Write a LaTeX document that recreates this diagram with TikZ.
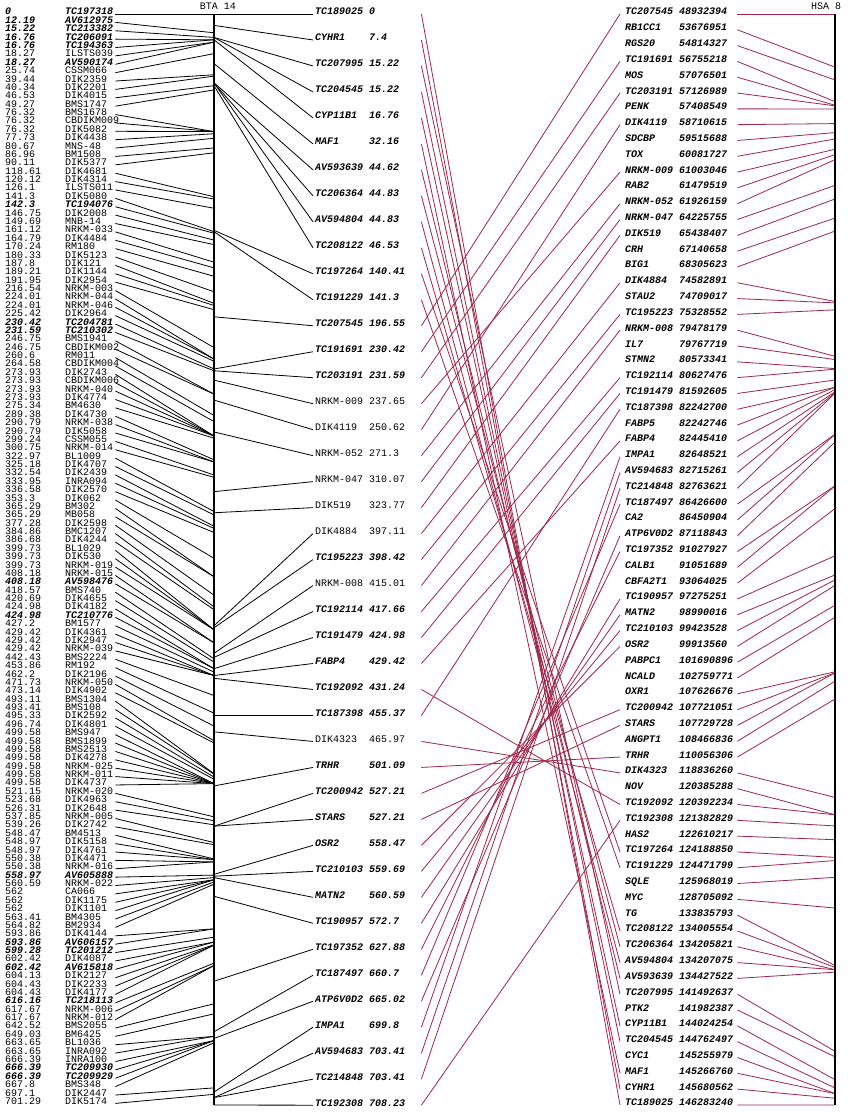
\documentclass[tikz,border=0pt]{standalone}
\usepackage{fontspec}
\setmonofont{Liberation Mono}
\definecolor{linkred}{RGB}{158,38,72}
\tikzset{
  mk/.style={font=\ttfamily\fontsize{10}{10}\selectfont},
  est/.style={font=\ttfamily\bfseries\itshape\fontsize{10}{10}\selectfont},
  lbl/.style={anchor=west,inner sep=0pt,text height=6pt,text depth=0pt,align=left},
  con/.style={line width=0.8pt},
  link/.style={linkred,line width=0.8pt},
  axis/.style={line width=2.8pt}
}
\begin{document}
\begin{tikzpicture}[x=1pt,y=-1pt]
\fill[white] (0,0) rectangle (848,1113);
\useasboundingbox (0,0) rectangle (848,1113);

\coordinate (btatop) at (214,14);
\coordinate (btabot) at (214,1105);
\coordinate (hsatop) at (835,14);
\coordinate (hsabot) at (835,1105);
\node[mk] (bta) at (218,6) {BTA 14};
\node[mk] (hsa) at (826,6) {HSA 8};

\foreach \cm/\nm/\st [count=\i] in {0/TC197318/est, 12.19/AV612975/est, 15.22/TC213382/est, 16.76/TC206091/est, 16.76/TC194363/est, 18.27/ILSTS039/mk, 18.27/AV590174/est, 25.74/CSSM066/mk, 39.44/DIK2359/mk, 40.34/DIK2201/mk, 46.53/DIK4015/mk, 49.27/BMS1747/mk, 76.32/BMS1678/mk, 76.32/CBDIKM009/mk, 76.32/DIK5082/mk, 77.73/DIK4438/mk, 80.67/MNS-48/mk, 86.96/BM1508/mk, 90.11/DIK5377/mk, 118.61/DIK4681/mk, 120.12/DIK4314/mk, 126.1/ILSTS011/mk, 141.3/DIK5080/mk, 142.3/TC194076/est, 146.75/DIK2008/mk, 149.69/MNB-14/mk, 161.12/NRKM-033/mk, 164.79/DIK4484/mk, 170.24/RM180/mk, 180.33/DIK5123/mk, 187.8/DIK121/mk, 189.21/DIK1144/mk, 191.95/DIK2954/mk, 216.54/NRKM-003/mk, 224.01/NRKM-044/mk, 224.01/NRKM-046/mk, 225.42/DIK2964/mk, 230.42/TC204781/est, 231.59/TC210302/est, 246.75/BMS1941/mk, 246.75/CBDIKM002/mk, 260.6/RM011/mk, 264.58/CBDIKM004/mk, 273.93/DIK2743/mk, 273.93/CBDIKM006/mk, 273.93/NRKM-040/mk, 273.93/DIK4774/mk, 275.34/BM4630/mk, 289.38/DIK4730/mk, 290.79/NRKM-038/mk, 290.79/DIK5058/mk, 299.24/CSSM055/mk, 300.75/NRKM-014/mk, 322.97/BL1009/mk, 325.18/DIK4707/mk, 332.54/DIK2439/mk, 333.95/INRA094/mk, 336.58/DIK2570/mk, 353.3/DIK062/mk, 365.29/BM302/mk, 365.29/MB058/mk, 377.28/DIK2598/mk, 384.86/BMC1207/mk, 386.68/DIK4244/mk, 399.73/BL1029/mk, 399.73/DIK530/mk, 399.73/NRKM-019/mk, 408.18/NRKM-015/mk, 408.18/AV598476/est, 418.57/BMS740/mk, 420.69/DIK4655/mk, 424.98/DIK4182/mk, 424.98/TC210776/est, 427.2/BM1577/mk, 429.42/DIK4361/mk, 429.42/DIK2947/mk, 429.42/NRKM-039/mk, 442.43/BMS2224/mk, 453.86/RM192/mk, 462.2/DIK2196/mk, 471.73/NRKM-050/mk, 473.14/DIK4902/mk, 493.11/BMS1304/mk, 493.41/BMS108/mk, 495.33/DIK2592/mk, 496.74/DIK4801/mk, 499.58/BMS947/mk, 499.58/BMS1899/mk, 499.58/BMS2513/mk, 499.58/DIK4278/mk, 499.58/NRKM-025/mk, 499.58/NRKM-011/mk, 499.58/DIK4737/mk, 521.15/NRKM-020/mk, 523.68/DIK4963/mk, 526.31/DIK2648/mk, 537.85/NRKM-005/mk, 539.26/DIK2742/mk, 548.47/BM4513/mk, 548.97/DIK5158/mk, 548.97/DIK4761/mk, 550.38/DIK4471/mk, 550.38/NRKM-016/mk, 558.97/AV605888/est, 560.59/NRKM-022/mk, 562/CA066/mk, 562/DIK1175/mk, 562/DIK1101/mk, 563.41/BM4305/mk, 564.82/BM2934/mk, 593.86/DIK4144/mk, 593.86/AV606157/est, 599.28/TC201212/est, 602.42/DIK4087/mk, 602.42/AV615818/est, 604.13/DIK2127/mk, 604.43/DIK2233/mk, 604.43/DIK4177/mk, 616.16/TC218113/est, 617.67/NRKM-006/mk, 617.67/NRKM-012/mk, 642.52/BMS2055/mk, 649.03/BM6425/mk, 663.65/BL1036/mk, 663.65/INRA092/mk, 666.39/INRA100/mk, 666.39/TC209930/est, 666.39/TC209929/est, 667.8/BMS348/mk, 697.1/DIK2447/mk, 701.29/DIK5174/mk} {
  \pgfmathsetmacro{\ly}{12+(\i-1)*8.38}
  \pgfmathsetmacro{\ay}{14+\cm*1.5405}
  \node[lbl,\st,text width=110pt] (l\i) at (5,\ly) {\makebox[60pt][l]{\cm}\nm};
  \coordinate (la\i) at (214,\ay);
  \draw[con] ([yshift=-2pt]l\i.east) -- (la\i);
}

\foreach \nm/\bp [count=\k] in {TC207545/48932394, RB1CC1/53676951, RGS20/54814327, TC191691/56755218, MOS/57076501, TC203191/57126989, PENK/57408549, DIK4119/58710615, SDCBP/59515688, TOX/60081727, NRKM-009/61003046, RAB2/61479519, NRKM-052/61926159, NRKM-047/64225755, DIK519/65438407, CRH/67140658, BIG1/68305623, DIK4884/74582891, STAU2/74709017, TC195223/75328552, NRKM-008/79478179, IL7/79767719, STMN2/80573341, TC192114/80627476, TC191479/81592605, TC187398/82242700, FABP5/82242746, FABP4/82445410, IMPA1/82648521, AV594683/82715261, TC214848/82763621, TC187497/86426600, CA2/86450904, ATP6V0D2/87118843, TC197352/91027927, CALB1/91051689, CBFA2T1/93064025, TC190957/97275251, MATN2/98990016, TC210103/99423528, OSR2/99913560, PABPC1/101690896, NCALD/102759771, OXR1/107626676, TC200942/107721051, STARS/107729728, ANGPT1/108466836, TRHR/110056306, DIK4323/118836260, NOV/120385288, TC192092/120392234, TC192308/121382829, HAS2/122610217, TC197264/124188850, TC191229/124471799, SQLE/125968019, MYC/128705092, TG/133835793, TC208122/134005554, TC206364/134205821, AV594804/134207075, AV593639/134427522, TC207995/141492637, PTK2/141982387, CYP11B1/144024254, TC204545/144762497, CYC1/145255979, MAF1/145266760, CYHR1/145680562, TC189025/146283240} {
  \edef\hy{\fpeval{12+(\k-1)*15.81}}
  \edef\ay{\fpeval{14+(\bp-48932394)*1091/97350846}}
  \node[lbl,est,text width=110pt] (h\nm) at (625,\hy) {\makebox[54pt][l]{\nm}\bp};
  \coordinate (ha\k) at (835,\ay);
  \draw[link] ([xshift=2pt,yshift=-2pt]h\nm.east) -- (ha\k);
}

\foreach \nm/\cm/\st [count=\j] in {TC189025/0/est, CYHR1/7.4/est, TC207995/15.22/est, TC204545/15.22/est, CYP11B1/16.76/est, MAF1/32.16/est, AV593639/44.62/est, TC206364/44.83/est, AV594804/44.83/est, TC208122/46.53/est, TC197264/140.41/est, TC191229/141.3/est, TC207545/196.55/est, TC191691/230.42/est, TC203191/231.59/est, NRKM-009/237.65/mk, DIK4119/250.62/mk, NRKM-052/271.3/mk, NRKM-047/310.07/mk, DIK519/323.77/mk, DIK4884/397.11/mk, TC195223/398.42/est, NRKM-008/415.01/mk, TC192114/417.66/est, TC191479/424.98/est, FABP4/429.42/est, TC192092/431.24/est, TC187398/455.37/est, DIK4323/465.97/mk, TRHR/501.09/est, TC200942/527.21/est, STARS/527.21/est, OSR2/558.47/est, TC210103/559.69/est, MATN2/560.59/est, TC190957/572.7/est, TC197352/627.88/est, TC187497/660.7/est, ATP6V0D2/665.02/est, IMPA1/699.8/est, AV594683/703.41/est, TC214848/703.41/est, TC192308/708.23/est} {
  \pgfmathsetmacro{\my}{12+(\j-1)*25.98}
  \pgfmathsetmacro{\ay}{14+\cm*1.5405}
  \node[lbl,\st,text width=106pt] (b\nm) at (315,\my) {\makebox[54pt][l]{\nm}\cm};
  \coordinate (ba\j) at (214,\ay);
  \draw[con] (ba\j) -- ([xshift=-2pt,yshift=-2pt]b\nm.west);
  \draw[link] ([yshift=-2pt]b\nm.east) -- ([xshift=-5pt,yshift=-2pt]h\nm.west);
}

\draw[axis] (btatop) -- (btabot);
\draw[axis] (hsatop) -- (hsabot);
\end{tikzpicture}
\end{document}
